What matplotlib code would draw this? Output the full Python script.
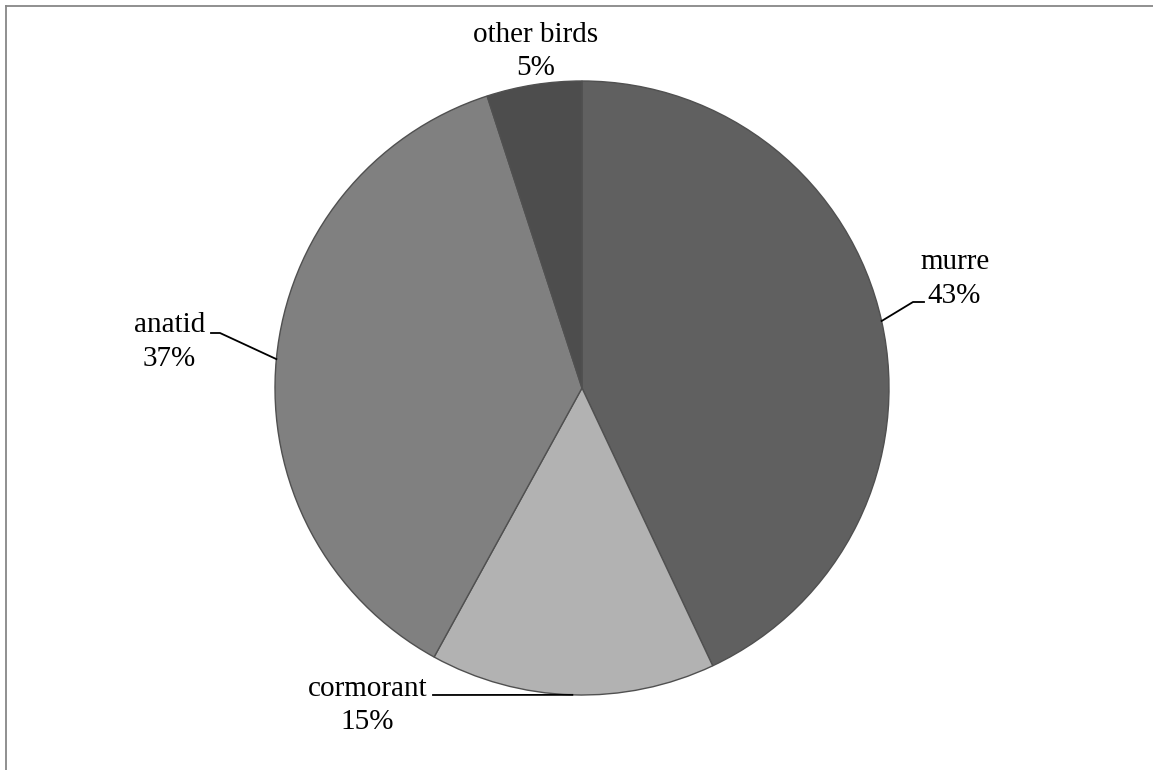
import numpy as np
import matplotlib
matplotlib.use("Agg")
import matplotlib.pyplot as plt
from matplotlib.lines import Line2D

# Share of birds by group
categories = ["murre", "cormorant", "anatid", "other birds"]
shares = [43, 15, 37, 5]
colors = ["#606060", "#b2b2b2", "#808080", "#4d4d4d"]

W, H = 1153, 770
fig = plt.figure(figsize=(W / 100, H / 100), dpi=100)
ax = fig.add_axes([0, 0, 1, 1])
ax.set_axis_off()

cx, cy, r = 582, H - 388, 307
wedges, _ = ax.pie(shares, colors=colors, startangle=90, counterclock=False,
                   center=(cx, cy), radius=r, frame=False,
                   wedgeprops=dict(edgecolor="#505050", linewidth=1.0))
ax.set_xlim(0, W)
ax.set_ylim(0, H)
ax.set_aspect("equal")

font = dict(family="Liberation Serif", fontsize=21, color="black")


def edge_point(w):
    a = np.deg2rad((w.theta1 + w.theta2) / 2)
    return cx + r * np.cos(a), cy + r * np.sin(a)


# label positions: (name x, name y, value x, value y) in pixels from top-left
label_pos = {
    "murre": (955, 262, 954, 296),
    "cormorant": (368, 689, 367, 722),
    "anatid": (170, 325, 169, 359),
    "other birds": (536, 35, 536, 68),
}

for w, name, val in zip(wedges, categories, shares):
    nx, ny, vx, vy = label_pos[name]
    ax.text(nx, H - ny, name, ha="center", va="center", **font)
    ax.text(vx, H - vy, f"{val}%", ha="center", va="center", **font)

# leader lines
px, py = edge_point(wedges[0])
ax.add_line(Line2D([px, 913, 924], [py, H - 302, H - 302], color="black", lw=1.3))
px, py = edge_point(wedges[1])
ax.add_line(Line2D([433, px], [H - 695, py], color="black", lw=1.3))
px, py = edge_point(wedges[2])
ax.add_line(Line2D([211, 220, px], [H - 333, H - 333, py], color="black", lw=1.3))

# partial chart-area frame
ax.add_line(Line2D([5.5, W], [H - 5.5, H - 5.5], color="#878787", lw=1.3))
ax.add_line(Line2D([5.5, 5.5], [0, H - 5.5], color="#878787", lw=1.3))

fig.savefig("out.png", dpi=100)
